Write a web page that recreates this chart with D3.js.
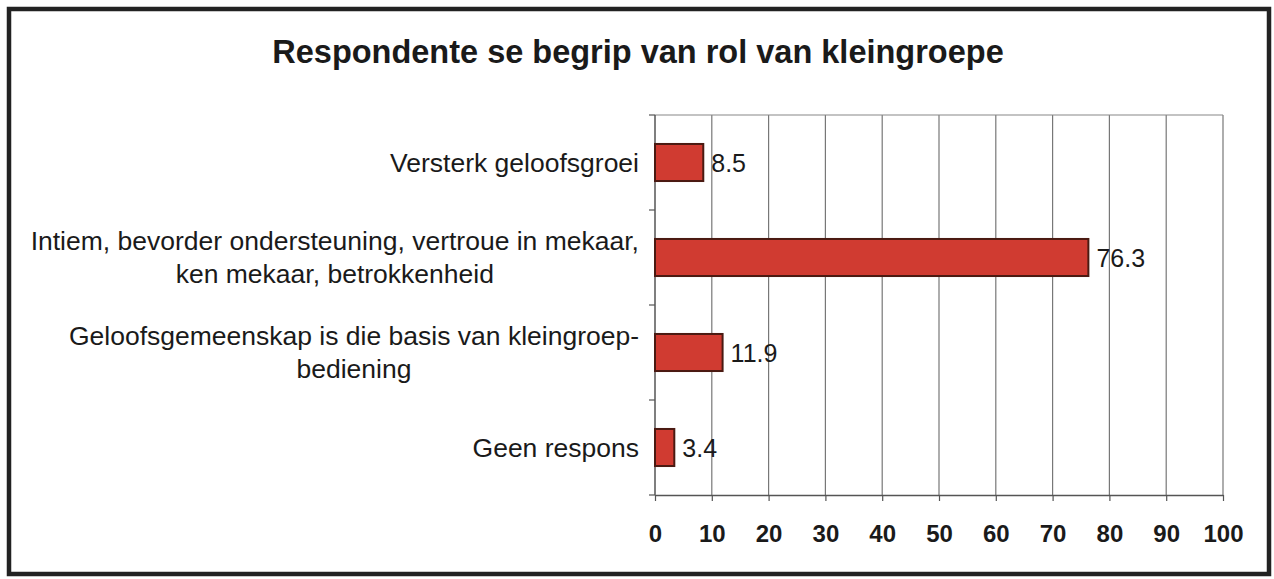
<!DOCTYPE html>
<html>
<head>
<meta charset="utf-8">
<script src="https://cdn.jsdelivr.net/npm/d3@7"></script>
<style>
html,body{margin:0;padding:0;background:#fff;}
svg{display:block;}
text{font-family:"Liberation Sans",Arial,sans-serif;fill:#1a1a1a;}
</style>
</head>
<body>
<svg id="chart" width="1274" height="579"></svg>
<script>
const title = "Respondente se begrip van rol van kleingroepe";
const categories = [
  ["Versterk geloofsgroei"],
  ["Intiem, bevorder ondersteuning, vertroue in mekaar,", "ken mekaar, betrokkenheid"],
  ["Geloofsgemeenskap is die basis van kleingroep-", "bediening"],
  ["Geen respons"]
];
const values = [8.5, 76.3, 11.9, 3.4];
const xTicks = [0, 10, 20, 30, 40, 50, 60, 70, 80, 90, 100];

const svg = d3.select("#chart");
const plot = {left: 655, right: 1223, top: 115, bottom: 495};

// outer frame
svg.append("rect").attr("x", 9).attr("y", 9).attr("width", 1260).attr("height", 565)
  .attr("fill", "#fff").attr("stroke", "#222").attr("stroke-width", 4.5);

svg.append("text").attr("x", 638).attr("y", 63).attr("text-anchor", "middle")
  .attr("font-size", 32.5).attr("font-weight", "bold").text(title);

const x = d3.scaleLinear().domain([0, 100]).range([plot.left, plot.right]);
const idx = categories.map((d, i) => i);
const y = d3.scaleBand().domain(idx).range([plot.top, plot.bottom]).paddingInner(0.61).paddingOuter(0.305);

// gridlines
svg.append("g").selectAll("line").data(xTicks.slice(1)).join("line")
  .attr("x1", d => x(d)).attr("x2", d => x(d))
  .attr("y1", plot.top).attr("y2", plot.bottom)
  .attr("stroke", "#777").attr("stroke-width", 1.2);
svg.append("line").attr("x1", plot.left).attr("x2", plot.right)
  .attr("y1", plot.top).attr("y2", plot.top).attr("stroke", "#888").attr("stroke-width", 1.2);

// bottom axis
const xAxis = d3.axisBottom(x).tickValues(xTicks).tickSize(6).tickPadding(24).tickSizeOuter(0);
const gx = svg.append("g").attr("transform", `translate(0,${plot.bottom})`).call(xAxis);
gx.select(".domain").attr("stroke", "#555").attr("stroke-width", 1.5);
gx.selectAll(".tick line").attr("stroke", "#555").attr("stroke-width", 1.2);
gx.selectAll(".tick text").attr("font-size", 24).attr("font-weight", "bold").attr("fill", "#2a2a2a")
  .attr("font-family", "Liberation Sans, Arial, sans-serif");

// left axis: line + ticks at band boundaries
const step = y.step();
const boundaries = d3.range(categories.length + 1).map(i => plot.top + i * step);
svg.append("line").attr("x1", plot.left).attr("x2", plot.left)
  .attr("y1", plot.top).attr("y2", plot.bottom).attr("stroke", "#555").attr("stroke-width", 1.5);
svg.append("g").selectAll("line").data(boundaries).join("line")
  .attr("x1", plot.left - 6).attr("x2", plot.left)
  .attr("y1", d => d).attr("y2", d => d).attr("stroke", "#555").attr("stroke-width", 1.2);

// bars
svg.append("g").selectAll("rect").data(values).join("rect")
  .attr("x", x(0)).attr("y", (d, i) => y(i))
  .attr("width", d => x(d) - x(0)).attr("height", y.bandwidth())
  .attr("fill", "#d03b31").attr("stroke", "#4a1a12").attr("stroke-width", 2);

// value labels
svg.append("g").selectAll("text").data(values).join("text")
  .attr("x", d => x(d) + 8).attr("y", (d, i) => y(i) + y.bandwidth() / 2 + 9)
  .attr("font-size", 25).attr("fill", "#2a2a2a").text(d => d.toFixed(1));

// category labels (block right aligned, lines centered within block)
const catSize = 26.5;
const lineH = 33;
const catG = svg.append("g");
categories.forEach((lines, i) => {
  const cy = y(i) + y.bandwidth() / 2;
  const t = catG.append("text").attr("font-size", catSize).attr("fill", "#2a2a2a");
  const n = lines.length;
  const tmp = svg.append("text").attr("font-size", catSize);
  let maxW = 0;
  lines.forEach(l => { tmp.text(l); maxW = Math.max(maxW, tmp.node().getComputedTextLength()); });
  tmp.remove();
  const right = 639;
  const cx = right - maxW / 2;
  lines.forEach((l, j) => {
    t.append("tspan").attr("x", cx).attr("text-anchor", "middle")
      .attr("y", cy + 9 + (j - (n - 1) / 2) * lineH).text(l);
  });
});
</script>
</body>
</html>
